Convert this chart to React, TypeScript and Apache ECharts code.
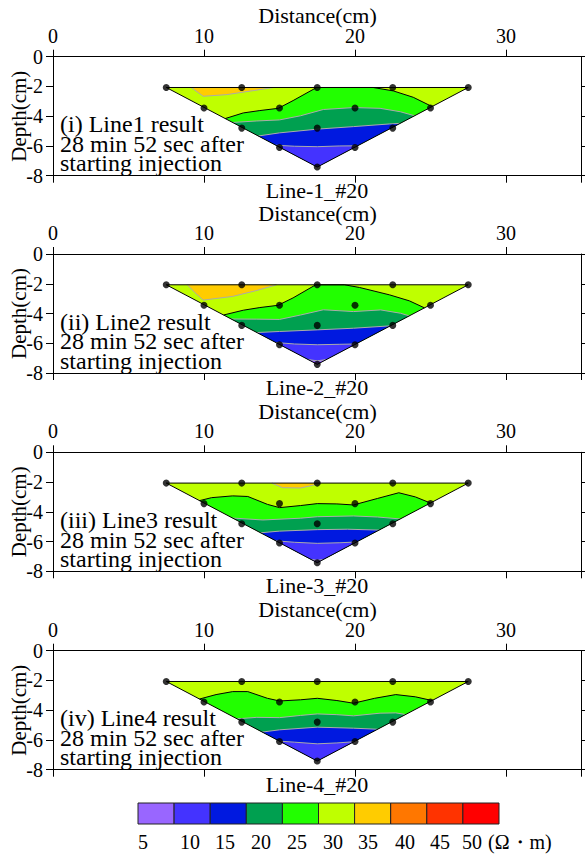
import React, { useEffect, useRef } from 'react';
import * as echarts from 'echarts';

const FONT = '"Liberation Serif", "Times New Roman", serif';

// electrode nodes (x in cm, depth in cm)
const rowDepths = [-2.07, -3.45, -4.8, -6.1, -7.42];
const rowXs = [
  [7.5, 12.5, 17.5, 22.5, 27.5],
  [10, 15, 20, 25],
  [12.5, 17.5, 22.5],
  [15, 20],
  [17.5],
];

const xTickValues = [0, 10, 20, 30];
const yTickValues = [0, -2, -4, -6, -8];

// colour scale (Ω·m)
const bandLabels = ['5', '10', '15', '20', '25', '30', '35', '40', '45', '50'];
const bandColors = ['#9966FF', '#4433FF', '#0019E0', '#00A050', '#22FF00', '#BFFF00', '#FFCC00', '#FF7700', '#FF3300', '#FF0000'];

// Panel 1 contours
const p1Iso35 = [[9.15, -2.07], [9.95, -2.66], [11.5, -2.55], [13.27, -2.28], [14.6, -2.07]];
const p1Iso30 = [[11.4, -4.16], [12.6, -3.78], [13.7, -3.62], [14.92, -3.47], [15.9, -2.95], [17.46, -2.07], [21.2, -2.07], [22.54, -2.3], [23.86, -2.73], [25.1, -3.35]];
const p1Iso25 = [[11.9, -4.42], [13.5, -4.32], [15.0, -4.25], [16.4, -3.97], [17.9, -3.55], [19.9, -3.42], [21.66, -3.47], [23.0, -3.7], [23.95, -3.97]];
const p1Iso20 = [[13.6, -5.33], [15.0, -5.12], [17.5, -4.87], [19.9, -4.7], [22.3, -4.52], [23.0, -4.48]];
const p1Iso15 = [[14.75, -5.95], [16.0, -6.02], [17.5, -6.05], [19.0, -6.0], [20.15, -5.99]];

// Panel 2 contours
const p2Iso35 = [[8.9, -2.07], [9.4, -2.6], [9.95, -3.1], [11.9, -2.85], [13.5, -2.45], [14.8, -2.07]];
const p2Iso30 = [[11.3, -4.1], [12.6, -3.78], [13.7, -3.6], [14.9, -3.45], [15.9, -2.95], [17.4, -2.07], [19.3, -2.07], [20.3, -2.25], [22.3, -2.75], [23.6, -3.15], [24.6, -3.62]];
const p2Iso25 = [[11.8, -4.37], [13.5, -4.38], [15.0, -4.4], [16.4, -4.1], [17.9, -3.75], [19.9, -3.87], [21.7, -3.76], [23.0, -3.98], [23.6, -4.16]];
const p2Iso20 = [[13.5, -5.28], [15.0, -5.21], [17.5, -5.1], [19.9, -4.99], [22.35, -4.83]];
const p2Iso15 = [[14.75, -5.95], [16.0, -6.05], [17.5, -6.1], [19.0, -6.07], [20.05, -6.05]];
const p2Iso10 = [[16.9, -7.1], [17.5, -7.18], [18.1, -7.1]];

// Panel 3 contours
const p3Iso35 = [[14.5, -2.07], [15.2, -2.38], [16.4, -2.4], [17.2, -2.22], [17.7, -2.07]];
const p3Iso30 = [[9.7, -3.25], [10.5, -3.05], [11.9, -2.93], [12.9, -2.97], [14.2, -3.5], [15.0, -3.72], [16.4, -3.58], [17.5, -3.45], [18.8, -3.47], [19.9, -3.54], [21.5, -3.1], [22.9, -2.72], [24.0, -3.0], [25.0, -3.41]];
const p3Iso25 = [[11.9, -4.42], [13.9, -4.55], [16.4, -4.43], [17.5, -4.33], [19.9, -4.28], [21.5, -4.35], [23.0, -4.48]];
const p3Iso20 = [[13.75, -5.41], [15.0, -5.3], [17.5, -5.2], [19.5, -5.17], [21.6, -5.23]];
const p3Iso15 = [[14.75, -5.95], [16.0, -6.05], [17.5, -6.12], [19.0, -6.08], [20.1, -6.03]];
const p3Iso10 = [[17.1, -7.21], [17.5, -7.26], [17.9, -7.21]];

// Panel 4 contours
const p4Iso30 = [[9.7, -3.25], [10.8, -2.95], [11.9, -2.75], [12.9, -2.75], [14.2, -3.2], [15.0, -3.38], [16.4, -3.3], [17.5, -3.2], [18.8, -3.35], [19.9, -3.53], [21.3, -3.2], [22.7, -2.95], [24.0, -3.1], [25.1, -3.35]];
const p4Iso25 = [[12.2, -4.58], [13.5, -4.48], [15.0, -4.5], [16.4, -4.35], [17.5, -4.25], [18.8, -4.3], [19.9, -4.38], [21.66, -4.2], [22.7, -4.18], [23.35, -4.29]];
const p4Iso20 = [[13.85, -5.47], [15.0, -5.32], [17.5, -5.14], [19.9, -5.21], [21.5, -5.28]];
const p4Iso15 = [[15.0, -6.08], [16.0, -6.15], [17.5, -6.26], [18.8, -6.2], [19.95, -6.12]];

const panelTitles = [
  '(i) Line1 result\n28 min 52 sec after\nstarting injection',
  '(ii) Line2 result\n28 min 52 sec after\nstarting injection',
  '(iii) Line3 result\n28 min 52 sec after\nstarting injection',
  '(iv) Line4 result\n28 min 52 sec after\nstarting injection',
];
const lineLabels = ['Line-1_#20', 'Line-2_#20', 'Line-3_#20', 'Line-4_#20'];

const panels = [
  { iso35: p1Iso35, iso30: p1Iso30, iso25: p1Iso25, iso20: p1Iso20, iso15: p1Iso15, iso10: null },
  { iso35: p2Iso35, iso30: p2Iso30, iso25: p2Iso25, iso20: p2Iso20, iso15: p2Iso15, iso10: p2Iso10 },
  { iso35: p3Iso35, iso30: p3Iso30, iso25: p3Iso25, iso20: p3Iso20, iso15: p3Iso15, iso10: p3Iso10 },
  { iso35: null, iso30: p4Iso30, iso25: p4Iso25, iso20: p4Iso20, iso15: p4Iso15, iso10: null },
];

const GRID_TOPS = [56.7, 254, 452.3, 650.7];
const GRID_H = 119;
const GRID_LEFT = 53;
const GRID_RIGHT = 3.5;

const nodes: number[][] = [];
rowXs.forEach((xs, r) => xs.forEach((x) => nodes.push([x, rowDepths[r]])));
const TL = [rowXs[0][0], rowDepths[0]];
const TR = [rowXs[0][rowXs[0].length - 1], rowDepths[0]];
const BOT = [rowXs[4][0], rowDepths[4]];

function makeRender(p: any) {
  return (params: any, api: any) => {
    const c = (pt: number[]) => api.coord(pt);
    const children: any[] = [];
    children.push({ type: 'polygon', shape: { points: [TL, TR, BOT].map(c) }, style: { fill: bandColors[5] } });
    if (p.iso35) children.push({ type: 'polygon', shape: { points: p.iso35.map(c) }, style: { fill: bandColors[6] } });
    const layers: any[] = [[p.iso30, 4], [p.iso25, 3], [p.iso20, 2], [p.iso15, 1], [p.iso10, 0]];
    layers.forEach(([iso, k]) => {
      if (iso) children.push({ type: 'polygon', shape: { points: [...iso, BOT].map(c) }, style: { fill: bandColors[k] } });
    });
    [p.iso35, p.iso25, p.iso20, p.iso15, p.iso10].forEach((iso) => {
      if (iso) children.push({ type: 'polyline', shape: { points: iso.map(c) }, style: { stroke: '#ABABAB', lineWidth: 1, fill: null } });
    });
    children.push({ type: 'polyline', shape: { points: p.iso30.map(c) }, style: { stroke: '#000', lineWidth: 1, fill: null } });
    children.push({ type: 'polygon', shape: { points: [TL, TR, BOT].map(c) }, style: { fill: null, stroke: '#000', lineWidth: 1 } });
    return { type: 'group', children };
  };
}

export default function App() {
  const ref = useRef<HTMLDivElement>(null);
  useEffect(() => {
    if (!ref.current) return;
    const chart = echarts.init(ref.current, null, { renderer: 'svg' });
    const grids: any[] = [];
    const xAxes: any[] = [];
    const yAxes: any[] = [];
    const series: any[] = [];
    const graphics: any[] = [];
    const axisLine = { show: true, onZero: false, lineStyle: { color: '#000', width: 1 } };
    const tick = { show: true, length: 7, lineStyle: { color: '#000', width: 1 } };
    GRID_TOPS.forEach((top, i) => {
      grids.push({ left: GRID_LEFT, right: GRID_RIGHT, top, height: GRID_H, containLabel: false });
      xAxes.push({
        gridIndex: i, type: 'value', position: 'top', min: 0, max: 35, interval: 10,
        axisLine, axisTick: tick, splitLine: { show: false },
        axisLabel: { fontSize: 20, color: '#000', fontFamily: FONT, margin: 11, showMaxLabel: false,
          formatter: (v: number) => (xTickValues.includes(v) ? String(v) : '') },
      });
      xAxes.push({
        gridIndex: i, type: 'value', position: 'bottom', min: 0, max: 35, interval: 10,
        axisLine, axisTick: tick, splitLine: { show: false }, axisLabel: { show: false },
      });
      yAxes.push({
        gridIndex: i, type: 'value', position: 'left', min: -8, max: 0, interval: 2,
        axisLine, axisTick: tick, splitLine: { show: false },
        axisLabel: { fontSize: 20, color: '#000', fontFamily: FONT, margin: 10,
          formatter: (v: number) => (yTickValues.includes(v) ? String(v) : '') },
      });
      yAxes.push({
        gridIndex: i, type: 'value', position: 'right', min: -8, max: 0, interval: 2,
        axisLine, axisTick: tick, splitLine: { show: false }, axisLabel: { show: false },
      });
      series.push({
        type: 'custom', xAxisIndex: i * 2, yAxisIndex: i * 2, silent: true, clip: false,
        data: [[0, 0]], renderItem: makeRender(panels[i]), z: 2,
      });
      series.push({
        type: 'scatter', xAxisIndex: i * 2, yAxisIndex: i * 2, silent: true,
        data: nodes, symbol: 'circle', symbolSize: 7, itemStyle: { color: '#000' }, z: 5,
      });
      graphics.push({ type: 'text', x: 317.5, y: top - 41, style: { text: 'Distance(cm)', font: `22px ${FONT}`, fill: '#000', align: 'center', verticalAlign: 'middle' } });
      graphics.push({ type: 'text', x: 317, y: top + GRID_H + 14.5, style: { text: lineLabels[i], font: `22px ${FONT}`, fill: '#000', align: 'center', verticalAlign: 'middle' } });
      graphics.push({ type: 'text', x: 19, y: top + GRID_H / 2, rotation: Math.PI / 2, style: { text: 'Depth(cm)', font: `21px ${FONT}`, fill: '#000', align: 'center', verticalAlign: 'middle' } });
      graphics.push({ type: 'text', x: 60, y: top + 58, style: { text: panelTitles[i], font: `24px ${FONT}`, lineHeight: 19.5, fill: '#000', align: 'left', verticalAlign: 'top' } });
    });
    // colour bar
    const cbX = 138, cbY = 803, cbW = 36.1, cbH = 21;
    const labelX = [143, 190, 225, 261, 297, 333, 368, 405, 440, 472];
    bandColors.forEach((col, k) => {
      graphics.push({ type: 'rect', shape: { x: cbX + k * cbW, y: cbY, width: cbW, height: cbH }, style: { fill: col, stroke: '#222', lineWidth: 1 } });
      graphics.push({ type: 'text', x: labelX[k], y: 842, style: { text: bandLabels[k], font: `20px ${FONT}`, fill: '#000', align: 'center', verticalAlign: 'middle' } });
    });
    graphics.push({ type: 'text', x: 488, y: 842, style: { text: '(Ω・m)', font: `20px ${FONT}`, fill: '#000', align: 'left', verticalAlign: 'middle' } });

    chart.setOption({
      animation: false,
      backgroundColor: '#fff',
      grid: grids,
      xAxis: xAxes,
      yAxis: yAxes,
      series,
      graphic: graphics,
    });
    return () => chart.dispose();
  }, []);
  return <div ref={ref} style={{ position: 'fixed', left: 0, top: 0, width: 585, height: 859 }} />;
}
